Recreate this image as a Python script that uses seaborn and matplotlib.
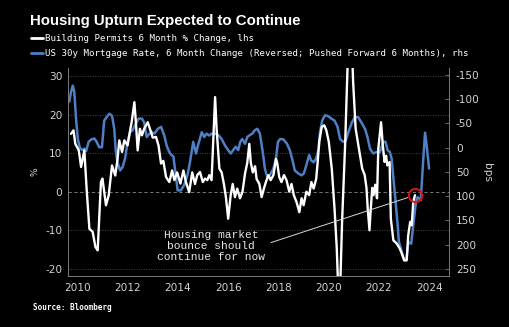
import matplotlib
matplotlib.use("Agg")
import matplotlib.pyplot as plt
from matplotlib.lines import Line2D
import seaborn as sns
import pandas as pd

# ---------------- data ----------------
permits_year = [
    2009.75, 2009.85, 2009.92, 2010.06, 2010.15, 2010.28, 2010.37, 2010.48, 2010.61, 2010.72,
    2010.81, 2010.94, 2011.00, 2011.14, 2011.25, 2011.38, 2011.51, 2011.60, 2011.67, 2011.78,
    2011.87, 2012.00, 2012.10, 2012.16, 2012.27, 2012.33, 2012.40, 2012.49, 2012.57, 2012.66,
    2012.80, 2012.93, 2013.00, 2013.13, 2013.23, 2013.33, 2013.42, 2013.53, 2013.66, 2013.77,
    2013.86, 2013.97, 2014.10, 2014.22, 2014.32, 2014.45, 2014.57, 2014.68, 2014.77, 2014.88,
    2014.99, 2015.08, 2015.17, 2015.25, 2015.34, 2015.41, 2015.48, 2015.54, 2015.65, 2015.74,
    2015.83, 2015.91, 2016.00, 2016.10, 2016.18, 2016.27, 2016.36, 2016.47, 2016.57, 2016.67,
    2016.76, 2016.84, 2016.90, 2016.98, 2017.07, 2017.13, 2017.24, 2017.33, 2017.42, 2017.50,
    2017.60, 2017.69, 2017.80, 2017.90, 2017.95, 2018.03, 2018.12, 2018.22, 2018.32, 2018.43,
    2018.52, 2018.61, 2018.72, 2018.83, 2018.92, 2019.00, 2019.11, 2019.22, 2019.31, 2019.40,
    2019.50, 2019.56, 2019.62, 2019.72, 2019.82, 2019.90, 2020.00, 2020.12, 2020.23, 2020.32,
    2020.38, 2020.45, 2020.53, 2020.65, 2020.76, 2020.85, 2020.92, 2020.97, 2021.07, 2021.18,
    2021.33, 2021.43, 2021.50, 2021.55, 2021.62, 2021.66, 2021.73, 2021.78, 2021.85, 2021.92,
    2021.97, 2022.08, 2022.15, 2022.22, 2022.28, 2022.33, 2022.42, 2022.47, 2022.57, 2022.70,
    2022.83, 2022.92, 2023.00, 2023.10, 2023.16, 2023.24, 2023.30, 2023.36, 2023.43,
]
permits_pct = [
    15.0, 15.9, 12.4, 10.7, 6.4, 10.7, 0.8, -9.6, -10.4, -14.3,
    -15.2, 2.5, 3.4, -3.5, -0.9, 6.8, 4.2, 8.5, 13.3, 10.3,
    13.3, 12.0, 15.9, 18.0, 23.2, 18.0, 10.7, 16.3, 14.6, 16.3,
    18.0, 15.5, 14.0, 14.2, 12.0, 7.3, 8.0, 3.8, 2.5, 5.5,
    3.0, 5.0, 2.1, 5.5, 2.5, -0.1, 5.0, 2.0, 4.3, 5.1,
    2.5, 3.4, 3.0, 4.3, 3.0, 13.7, 24.5, 16.3, 6.0, 5.0,
    2.0, -1.4, -7.0, -0.9, 2.0, -1.4, 0.8, -1.7, 0.0, 4.7,
    7.5, 12.4, 7.5, 5.0, 6.6, 3.3, 2.0, -1.4, 0.8, 2.5,
    4.3, 3.0, 4.3, 8.5, 7.5, 3.8, 2.5, 4.3, 3.0, 0.0,
    2.0, -0.9, -2.7, -5.3, -1.7, -3.5, 0.0, -0.9, 2.5, 0.8,
    3.3, 7.7, 12.9, 16.8, 17.2, 16.0, 13.0, 6.0, -4.4, -14.8,
    -26.0, -26.0, -7.8, 12.0, 35.0, 45.0, 38.0, 28.4, 16.3, 12.0,
    6.0, 4.3, 1.0, -4.4, -10.0, -5.5, 1.0, -0.9, 1.8, -1.7,
    11.1, 18.0, 12.0, 7.7, 9.3, 6.8, 7.7, -7.0, -12.6, -13.4,
    -14.8, -16.3, -17.8, -17.8, -11.3, -7.8, -8.7, -2.7, -0.9,
]

mortgage_year = [
    2009.68, 2009.75, 2009.82, 2009.88, 2009.95, 2010.02, 2010.10, 2010.20, 2010.28, 2010.35,
    2010.45, 2010.55, 2010.68, 2010.77, 2010.87, 2010.98, 2011.07, 2011.17, 2011.27, 2011.38,
    2011.47, 2011.53, 2011.60, 2011.70, 2011.80, 2011.90, 2012.00, 2012.10, 2012.20, 2012.33,
    2012.44, 2012.57, 2012.66, 2012.76, 2012.87, 2012.97, 2013.07, 2013.20, 2013.33, 2013.46,
    2013.55, 2013.64, 2013.72, 2013.82, 2013.90, 2013.99, 2014.12, 2014.25, 2014.38, 2014.48,
    2014.61, 2014.72, 2014.80, 2014.95, 2015.05, 2015.14, 2015.25, 2015.34, 2015.48, 2015.61,
    2015.74, 2015.87, 2016.00, 2016.10, 2016.20, 2016.30, 2016.40, 2016.48, 2016.56, 2016.67,
    2016.76, 2016.86, 2016.96, 2017.06, 2017.16, 2017.26, 2017.37, 2017.46, 2017.55, 2017.65,
    2017.80, 2017.90, 2017.98, 2018.07, 2018.20, 2018.34, 2018.45, 2018.56, 2018.65, 2018.79,
    2018.92, 2019.01, 2019.11, 2019.22, 2019.30, 2019.40, 2019.50, 2019.60, 2019.65, 2019.74,
    2019.85, 2019.98, 2020.10, 2020.23, 2020.35, 2020.45, 2020.58, 2020.68, 2020.78, 2020.92,
    2021.04, 2021.17, 2021.30, 2021.44, 2021.54, 2021.64, 2021.77, 2021.90, 2022.03, 2022.17,
    2022.26, 2022.34, 2022.43, 2022.50, 2022.56, 2022.66, 2022.73, 2022.79, 2022.87, 2022.96,
    2023.02, 2023.09, 2023.17, 2023.28, 2023.39, 2023.47, 2023.53, 2023.66, 2023.76, 2023.83,
    2023.90, 2023.99,
]
mortgage_bps = [
    -95, -115, -128, -115, -60, -18, 0, 5, 2, 7,
    -12, -17, -19, -12, -1, -1, -56, -63, -70, -66,
    -39, 7, 30, 47, 40, 22, -12, -32, -36, -50,
    -60, -60, -52, -22, -29, -32, -29, -39, -43, -25,
    -5, 7, 14, 18, 50, 88, 88, 77, 57, 30,
    -12, 12, -5, -32, -22, -29, -25, -29, -29, -26,
    -18, -5, 5, 12, 5, -2, 5, -12, -18, -8,
    -22, -26, -29, -36, -39, -29, 7, 43, 60, 57,
    43, 22, -12, -18, -17, -8, 5, 26, 47, 53,
    57, 53, 36, 15, 26, 30, 22, 2, -32, -56,
    -67, -65, -60, -56, -43, -18, -12, -15, -32, -52,
    -63, -63, -52, -39, -22, 2, 12, 9, 9, -12,
    -12, 5, 9, 22, 57, 112, 153, 194, 208, 225,
    232, 229, 194, 198, 146, 112, 102, 108, 23, -31,
    -2, 43,
]

left_ticks = [-20, -10, 0, 10, 20, 30]
right_ticks = [-150, -100, -50, 0, 50, 100, 150, 200, 250]
year_ticks = [2010, 2012, 2014, 2016, 2018, 2020, 2022, 2024]

highlight_year = 2023.43
highlight_pct = -0.9

title = "Housing Upturn Expected to Continue"
label_permits = "Building Permits 6 Month % Change, lhs"
label_mortgage = "US 30y Mortgage Rate, 6 Month Change (Reversed; Pushed Forward 6 Months), rhs"
note = "Housing market\nbounce should\ncontinue for now"
source = "Source: Bloomberg"

# ---------------- style ----------------
sns.set_style("dark")
BG = "black"
WHITE = "#ffffff"
BLUE = "#4f7fc4"
TXT = "#d2d2d2"
GRID = "#5a5a5a"
plt.rcParams["font.family"] = ["DejaVu Sans"]

df_p = pd.DataFrame({"year": permits_year, "pct": permits_pct})
df_m = pd.DataFrame({"year": mortgage_year, "bps": mortgage_bps})

fig = plt.figure(figsize=(5.09, 3.27), dpi=100, facecolor=BG)
ax = fig.add_axes([0.1336, 0.156, 0.7484, 0.636])
ax.set_facecolor(BG)
ax2 = ax.twinx()
ax.set_zorder(ax2.get_zorder() + 1)
ax.patch.set_visible(False)
ax2.set_facecolor(BG)

sns.lineplot(data=df_m, x="year", y="bps", ax=ax2, color=BLUE, linewidth=1.8,
             estimator=None, sort=False)
sns.lineplot(data=df_p, x="year", y="pct", ax=ax, color=WHITE, linewidth=1.7,
             estimator=None, sort=False)

ax.set_xlim(2009.63, 2024.78)
ax.set_ylim(-21.84, 32.05)
ax2.set_ylim(264.5, -164.3)

# grid lines on left ticks
for v in left_ticks:
    if v == 0:
        ax.axhline(v, color="#8a8a8a", lw=0.6, ls=(0, (4, 3)), zorder=0)
    else:
        ax.axhline(v, color=GRID, lw=0.5, ls=(0, (1.5, 2)), zorder=0)
ax.grid(False)
ax2.grid(False)

ax.set_yticks(left_ticks)
ax.set_yticklabels([str(t) for t in left_ticks])
ax2.set_yticks(right_ticks)
ax2.set_yticklabels([str(t) for t in right_ticks])
ax.set_xticks(year_ticks)
ax.set_xticklabels([str(t) for t in year_ticks])

ax.tick_params(axis="x", colors=TXT, labelsize=7.6, length=3, width=0.6, direction="out", pad=2, color="#7a7a7a")
ax.tick_params(axis="y", colors=TXT, labelsize=7.6, length=0, pad=4)
ax2.tick_params(axis="y", colors=TXT, labelsize=7.6, length=3, width=0.6, direction="in", pad=5, color="#7a7a7a")

ax.set_xlabel("")
ax.set_ylabel("%", color=TXT, fontsize=6.5, labelpad=4)
ax2.set_ylabel("bps", color=TXT, fontsize=7.6, rotation=270, labelpad=9)

for a in (ax, ax2):
    for s in a.spines.values():
        s.set_visible(False)
ax.spines["left"].set_visible(True)
ax.spines["bottom"].set_visible(True)
ax2.spines["right"].set_visible(True)
for s in (ax.spines["left"], ax.spines["bottom"], ax2.spines["right"]):
    s.set_color("#7a7a7a")
    s.set_linewidth(0.7)

# highlight circle + annotation
ax.plot([highlight_year], [highlight_pct], marker="o", markersize=9.5,
        markerfacecolor="none", markeredgecolor="#e01010", markeredgewidth=1.4, zorder=5)
ax.annotate(note, xy=(highlight_year, highlight_pct), xytext=(2015.32, -14.1),
            ha="center", va="center", color="#e6e6e6", fontsize=8.1,
            family="Liberation Mono", linespacing=1.1,
            arrowprops=dict(arrowstyle="-", color="#d8d8d8", lw=0.7,
                            relpos=(1.0, 0.55), shrinkA=2, shrinkB=5.5))

# title, legend rows, source
fig.text(0.059, 0.936, title, color="white", fontsize=10.8, fontweight="bold",
         family="Liberation Sans", va="center", ha="left")
fig.add_artist(Line2D([0.060, 0.085], [0.883, 0.883], color=WHITE, lw=2, transform=fig.transFigure))
fig.text(0.088, 0.883, label_permits, color="white", fontsize=6.6,
         family="DejaVu Sans Mono", va="center", ha="left")
fig.add_artist(Line2D([0.060, 0.085], [0.837, 0.837], color=BLUE, lw=2, transform=fig.transFigure))
fig.text(0.088, 0.837, label_mortgage, color="white", fontsize=6.6,
         family="DejaVu Sans Mono", va="center", ha="left")
fig.text(0.064, 0.060, source, color="white", fontsize=5.6, fontweight="bold",
         family="DejaVu Sans Mono", va="center", ha="left")

fig.savefig("out.png", dpi=100, facecolor=BG)
